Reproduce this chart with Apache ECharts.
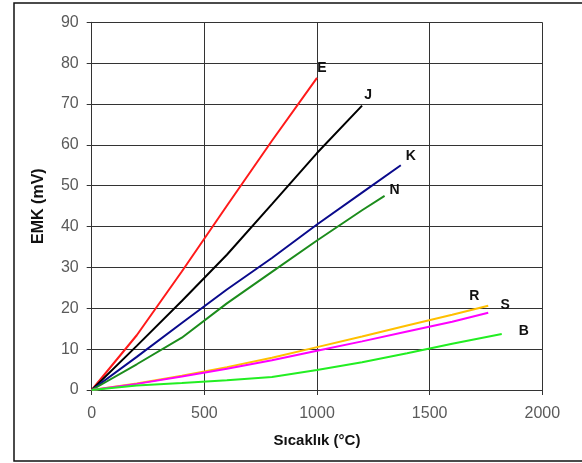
<!DOCTYPE html>
<html><head><meta charset="utf-8">
<script src="https://cdn.jsdelivr.net/npm/echarts@6/dist/echarts.min.js"></script>
<style>html,body{margin:0;padding:0;background:#fff}#c{width:582px;height:463px}</style>
</head><body><div id="c"></div>
<script>
const xTicks = [0, 500, 1000, 1500, 2000];
const yTicks = [0, 10, 20, 30, 40, 50, 60, 70, 80, 90];
const names = ['E', 'J', 'K', 'N', 'R', 'S', 'B'];
const tE = [0, 200, 400, 600, 800, 1000];
const vE = [0, 13.4, 29.0, 45.1, 61.0, 76.4];
const tJ = [0, 200, 400, 600, 800, 1000, 1200];
const vJ = [0, 10.8, 21.8, 33.1, 45.5, 58.0, 69.6];
const tK = [0, 200, 400, 600, 800, 1000, 1200, 1372];
const vK = [0, 8.1, 16.4, 24.6, 32.3, 40.5, 48.3, 55.0];
const tN = [0, 200, 400, 600, 800, 1000, 1200, 1300];
const vN = [0, 6.3, 12.8, 21.2, 28.9, 36.6, 44.0, 47.5];
const tR = [0, 200, 400, 600, 800, 1000, 1200, 1400, 1600, 1760];
const vR = [0, 1.6, 3.5, 5.6, 7.9, 10.5, 13.1, 15.8, 18.4, 20.6];
const tS = [0, 200, 400, 600, 800, 1000, 1200, 1400, 1600, 1760];
const vS = [0, 1.5, 3.3, 5.2, 7.3, 9.6, 11.9, 14.3, 16.7, 18.9];
const tB = [0, 200, 400, 600, 800, 1000, 1200, 1400, 1600, 1820];
const vB = [0, 1.1, 1.7, 2.4, 3.2, 4.9, 6.8, 9.0, 11.3, 13.7];

const seriesDefs = [
  {name: 'E', t: tE, v: vE, color: '#ff1a1a', off: [5, -10]},
  {name: 'J', t: tJ, v: vJ, color: '#000000', off: [6, -11]},
  {name: 'K', t: tK, v: vK, color: '#0a0a8c', off: [10, -9]},
  {name: 'N', t: tN, v: vN, color: '#1c8c1c', off: [10, -6]},
  {name: 'R', t: tR, v: vR, color: '#ffc000', off: [-14, -10]},
  {name: 'S', t: tS, v: vS, color: '#ff00ff', off: [17, -8]},
  {name: 'B', t: tB, v: vB, color: '#22ee22', off: [22, -3]}
];

const chart = echarts.init(document.getElementById('c'), null, {renderer: 'canvas'});
const axisLabelStyle = {color: '#5a5a5a', fontFamily: 'Liberation Sans, Arial', fontSize: 16};
chart.setOption({
  animation: false,
  backgroundColor: '#fff',
  graphic: [{type: 'rect', shape: {x: 14, y: 3, width: 580, height: 458},
    style: {fill: 'none', stroke: '#111', lineWidth: 1.5}, silent: true}],
  grid: {left: 91.7, right: 39.7, top: 22.3, bottom: 73, containLabel: false},
  xAxis: {
    type: 'value', min: 0, max: 2000, interval: 500,
    name: 'Sıcaklık (°C)', nameLocation: 'middle', nameGap: 43,
    nameTextStyle: {fontFamily: 'Liberation Sans, Arial', fontWeight: 'bold', fontSize: 15, color: '#111'},
    axisLine: {show: true, lineStyle: {color: '#333', width: 1}},
    axisTick: {show: true, length: 5, lineStyle: {color: '#333'}},
    axisLabel: Object.assign({margin: 16, formatter: v => xTicks.includes(v) ? String(v) : ''}, axisLabelStyle),
    splitLine: {show: true, lineStyle: {color: '#333', width: 1}}
  },
  yAxis: {
    type: 'value', min: 0, max: 90, interval: 10,
    name: 'EMK (mV)', nameLocation: 'middle', nameGap: 45, nameRotate: 90,
    nameTextStyle: {fontFamily: 'Liberation Sans, Arial', fontWeight: 'bold', fontSize: 16, color: '#111'},
    axisLine: {show: true, lineStyle: {color: '#333', width: 1}},
    axisTick: {show: true, length: 5, lineStyle: {color: '#333'}},
    axisLabel: Object.assign({margin: 13, formatter: v => yTicks.includes(v) ? String(v) : ''}, axisLabelStyle),
    splitLine: {show: true, lineStyle: {color: '#333', width: 1}}
  },
  series: seriesDefs.map(s => ({
    name: s.name, type: 'line', showSymbol: false, symbol: 'none',
    data: s.t.map((t, i) => [t, s.v[i]]),
    lineStyle: {color: s.color, width: 2},
    itemStyle: {color: s.color},
    endLabel: {show: true, formatter: s.name, position: 'right', distance: 0,
      align: 'center', verticalAlign: 'middle', offset: s.off,
      fontFamily: 'Liberation Sans, Arial', fontWeight: 'bold', fontSize: 14, color: '#111'}
  }))
});
</script></body></html>
